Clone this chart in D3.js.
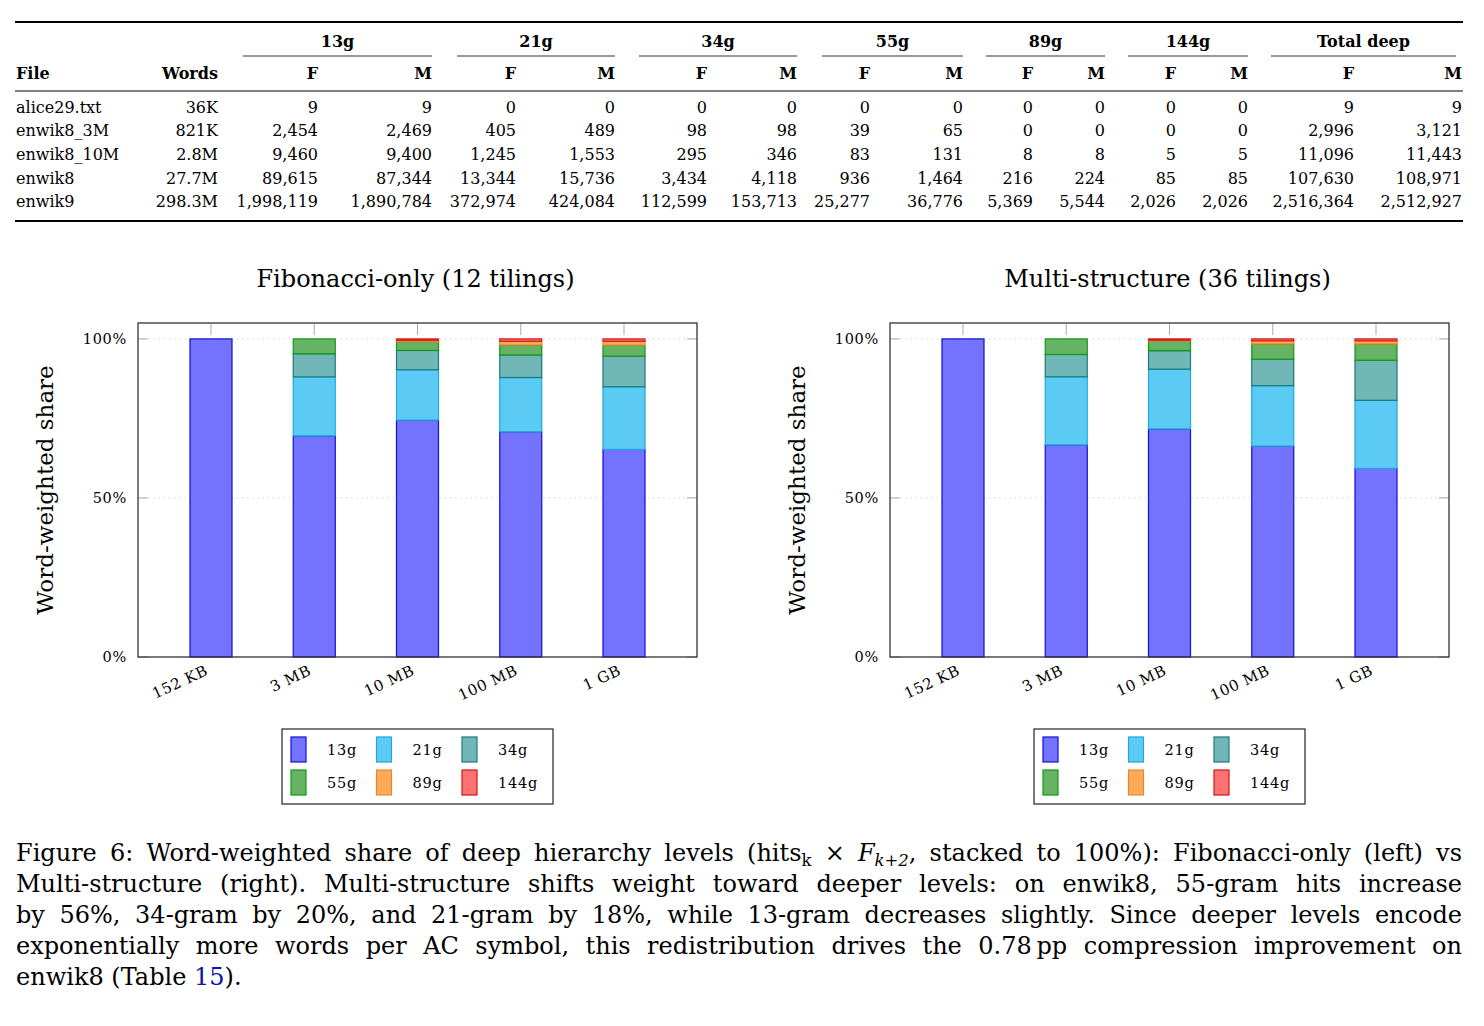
<!DOCTYPE html>
<html>
<head>
<meta charset="utf-8">
<script src="https://cdn.jsdelivr.net/npm/d3@7"></script>
<style>
  body { margin: 0; background: #fff; }
  svg { display: block; font-family: "DejaVu Serif", serif; }
</style>
</head>
<body>
<div id="fig"></div>
<script>
// ---- table data ----
var files = ["alice29.txt", "enwik8_3M", "enwik8_10M", "enwik8", "enwik9"];
var words = ["36K", "821K", "2.8M", "27.7M", "298.3M"];
var groups = ["13g", "21g", "34g", "55g", "89g", "144g", "Total deep"];
var hits13F = [9, 2454, 9460, 89615, 1998119];
var hits13M = [9, 2469, 9400, 87344, 1890784];
var hits21F = [0, 405, 1245, 13344, 372974];
var hits21M = [0, 489, 1553, 15736, 424084];
var hits34F = [0, 98, 295, 3434, 112599];
var hits34M = [0, 98, 346, 4118, 153713];
var hits55F = [0, 39, 83, 936, 25277];
var hits55M = [0, 65, 131, 1464, 36776];
var hits89F = [0, 0, 8, 216, 5369];
var hits89M = [0, 0, 8, 224, 5544];
var hits144F = [0, 0, 5, 85, 2026];
var hits144M = [0, 0, 5, 85, 2026];
var totalF = [9, 2996, 11096, 107630, 2516364];
var totalM = [9, 3121, 11443, 108971, 2512927];

// ---- chart data (word-weighted share, %) ----
var sizes = ["152 KB", "3 MB", "10 MB", "100 MB", "1 GB"];
var levels = ["13g", "21g", "34g", "55g", "89g", "144g"];
var fib13 = [100, 69.53, 74.47, 70.82, 65.27];
var fib21 = [0, 18.54, 15.83, 17.04, 19.68];
var fib34 = [0, 7.26, 6.07, 7.10, 9.62];
var fib55 = [0, 4.67, 2.76, 3.13, 3.49];
var fib89 = [0, 0, 0.43, 1.17, 1.20];
var fib144 = [0, 0, 0.44, 0.74, 0.73];
var multi13 = [100, 66.7, 71.7, 66.3, 59.3];
var multi21 = [0, 21.4, 18.8, 19.0, 21.4];
var multi34 = [0, 7.0, 5.8, 8.3, 12.6];
var multi55 = [0, 4.9, 3.0, 4.8, 5.1];
var multi89 = [0, 0, 0.3, 1.0, 1.0];
var multi144 = [0, 0, 0.4, 0.6, 0.6];
var yTicks = [0, 50, 100];

var fills = ['#7373ff', '#5bcbf5', '#72b7b7', '#66b366', '#ffaa57', '#ff7272'];
var strokes = ['#1010d0', '#20a8d8', '#1a7a7a', '#109a10', '#e88a2a', '#d01818'];

var svg = d3.select('#fig').append('svg')
    .attr('width', 1484)
    .attr('height', 1026);

// ----- table -----
var fmt = d3.format(',');
var tfs = '16px';
var tbl = svg.append('g').attr('class', 'table');
var colRight = [218, 318, 432, 516, 615, 707, 797, 870, 963, 1033, 1105, 1176, 1248, 1354, 1462];
var groupSpan = [[243, 432], [457, 615], [639, 797], [822, 963], [986, 1105], [1128, 1248], [1271, 1456]];
var rowY = [113, 136, 160, 184, 207];

tbl.append('line').attr('x1', 15).attr('x2', 1463).attr('y1', 22).attr('y2', 22)
    .attr('stroke', '#000').attr('stroke-width', 2);
tbl.append('line').attr('x1', 15).attr('x2', 1463).attr('y1', 91).attr('y2', 91)
    .attr('stroke', '#000').attr('stroke-width', 1);
tbl.append('line').attr('x1', 15).attr('x2', 1463).attr('y1', 221).attr('y2', 221)
    .attr('stroke', '#000').attr('stroke-width', 2);

tbl.selectAll('line.cmid')
    .data(groupSpan)
    .join('line')
    .attr('class', 'cmid')
    .attr('x1', d => d[0]).attr('x2', d => d[1])
    .attr('y1', 56).attr('y2', 56)
    .attr('stroke', '#000').attr('stroke-width', 0.8);

tbl.selectAll('text.grp')
    .data(groups)
    .join('text')
    .attr('class', 'grp')
    .attr('x', (d, i) => (groupSpan[i][0] + groupSpan[i][1]) / 2)
    .attr('y', 47)
    .attr('text-anchor', 'middle')
    .style('font-size', tfs)
    .style('font-weight', 'bold')
    .text(d => d);

tbl.append('text').attr('x', 16).attr('y', 79)
    .style('font-size', tfs).style('font-weight', 'bold').text('File');
tbl.append('text').attr('x', colRight[0]).attr('y', 79).attr('text-anchor', 'end')
    .style('font-size', tfs).style('font-weight', 'bold').text('Words');
tbl.selectAll('text.fm')
    .data(d3.range(14))
    .join('text')
    .attr('class', 'fm')
    .attr('x', i => colRight[i + 1])
    .attr('y', 79)
    .attr('text-anchor', 'end')
    .style('font-size', tfs)
    .style('font-weight', 'bold')
    .text(i => i % 2 == 0 ? 'F' : 'M');

var cols = [hits13F, hits13M, hits21F, hits21M, hits34F, hits34M, hits55F, hits55M,
            hits89F, hits89M, hits144F, hits144M, totalF, totalM];
files.forEach(function(f, r) {
    tbl.append('text').attr('x', 16).attr('y', rowY[r])
        .style('font-size', tfs).text(f);
    tbl.append('text').attr('x', colRight[0]).attr('y', rowY[r]).attr('text-anchor', 'end')
        .style('font-size', tfs).text(words[r]);
    cols.forEach(function(c, j) {
        tbl.append('text').attr('x', colRight[j + 1]).attr('y', rowY[r]).attr('text-anchor', 'end')
            .style('font-size', tfs).text(fmt(c[r]));
    });
});

// ----- stacked bar chart -----
function drawChart(left, title, series) {
    var top = 323, w = 559, h = 334;
    var g = svg.append('g').attr('transform', 'translate(' + left + ',' + top + ')');

    var x = d3.scalePoint().domain(sizes).range([0, w]).padding(0.707);
    var y = d3.scaleLinear().domain([0, 105]).range([h, 0]);
    var barW = 42;

    var rows = sizes.map(function(s, i) {
        var o = { size: s };
        levels.forEach(function(l, k) { o[l] = series[k][i]; });
        return o;
    });
    var stacked = d3.stack().keys(levels)(rows);

    // grid
    g.selectAll('line.grid')
        .data(yTicks.filter(t => t > 0))
        .join('line')
        .attr('class', 'grid')
        .attr('x1', 0).attr('x2', w)
        .attr('y1', d => y(d)).attr('y2', d => y(d))
        .attr('stroke', '#c8c8c8')
        .attr('stroke-dasharray', '1.2,4');

    // top ticks
    g.selectAll('line.xt')
        .data(sizes)
        .join('line')
        .attr('class', 'xt')
        .attr('x1', d => x(d)).attr('x2', d => x(d))
        .attr('y1', 0).attr('y2', 12)
        .attr('stroke', '#aaa');

    // y ticks both sides
    [0, w].forEach(function(side) {
        g.selectAll(null)
            .data(yTicks)
            .join('line')
            .attr('x1', side).attr('x2', side == 0 ? 10 : w - 10)
            .attr('y1', d => y(d)).attr('y2', d => y(d))
            .attr('stroke', '#aaa');
    });

    g.append('g')
        .selectAll('g')
        .data(stacked)
        .join('g')
        .attr('fill', (d, i) => fills[i])
        .attr('stroke', (d, i) => strokes[i])
        .selectAll('rect')
        .data(d => d.filter(p => p[1] - p[0] > 0))
        .join('rect')
        .attr('x', d => x(d.data.size) - barW / 2)
        .attr('y', d => y(d[1]))
        .attr('width', barW)
        .attr('height', d => y(d[0]) - y(d[1]))
        .attr('stroke-width', 1.2);

    // frame
    g.append('rect')
        .attr('width', w).attr('height', h)
        .attr('fill', 'none')
        .attr('stroke', '#333')
        .attr('stroke-width', 1.3);

    // y labels
    g.selectAll('text.yl')
        .data(yTicks)
        .join('text')
        .attr('class', 'yl')
        .attr('x', -11)
        .attr('y', d => y(d) + 5)
        .attr('text-anchor', 'end')
        .style('font-size', '14.5px')
        .style('letter-spacing', '0.7px')
        .text(d => d + '%');

    // x labels
    g.selectAll('text.xl')
        .data(sizes)
        .join('text')
        .attr('class', 'xl')
        .attr('text-anchor', 'end')
        .attr('transform', d => 'translate(' + (x(d) - 2) + ',' + (h + 17) + ') rotate(-25)')
        .style('font-size', '15px')
        .style('letter-spacing', '0.6px')
        .text(d => d);

    // y title
    g.append('text')
        .attr('transform', 'translate(' + (-85) + ',' + (h / 2) + ') rotate(-90)')
        .attr('text-anchor', 'middle')
        .style('font-size', '23px')
        .text('Word-weighted share');

    // title
    svg.append('text')
        .attr('x', left + w / 2 - 2)
        .attr('y', 287)
        .attr('text-anchor', 'middle')
        .style('font-size', '24px')
        .text(title);

    // legend
    var lg = svg.append('g').attr('transform', 'translate(' + (left + 144) + ',729)');
    lg.append('rect').attr('width', 271).attr('height', 75)
        .attr('fill', '#fff').attr('stroke', '#222').attr('stroke-width', 1.2);
    var item = lg.selectAll('g.item')
        .data(levels)
        .join('g')
        .attr('class', 'item')
        .attr('transform', (d, i) => 'translate(' + (9 + (i % 3) * 85.5) + ',' + (8 + Math.floor(i / 3) * 33) + ')');
    item.append('rect')
        .attr('width', 15).attr('height', 25)
        .attr('fill', (d, i) => fills[i])
        .attr('stroke', (d, i) => strokes[i])
        .attr('stroke-width', 1.2);
    item.append('text')
        .attr('x', 36).attr('y', 18)
        .style('font-size', '14.5px')
        .style('letter-spacing', '0.8px')
        .text(d => d);
}

drawChart(138, 'Fibonacci-only (12 tilings)', [fib13, fib21, fib34, fib55, fib89, fib144]);
drawChart(890, 'Multi-structure (36 tilings)', [multi13, multi21, multi34, multi55, multi89, multi144]);

// ----- caption -----
var capLines = [
    [['Figure 6: Word-weighted share of deep hierarchy levels (hits'], ['k', 'sub'], [' \u00d7 '], ['F', 'it'], ['k+2', 'subit'], [', stacked to 100%): Fibonacci-only (left) vs']],
    [['Multi-structure (right). Multi-structure shifts weight toward deeper levels: on enwik8, 55-gram hits increase']],
    [['by 56%, 34-gram by 20%, and 21-gram by 18%, while 13-gram decreases slightly. Since deeper levels encode']],
    [['exponentially more words per AC symbol, this redistribution drives the 0.78\u2009pp compression improvement on']],
    [['enwik8 (Table '], ['15', 'link'], [').']]
];
capLines.forEach(function(parts, i) {
    var t = svg.append('text')
        .attr('x', 16)
        .attr('y', 861 + i * 31)
        .style('font-size', '24px');
    parts.forEach(function(p, k) {
        var ts = t.append('tspan').text(p[0]);
        var prev = k > 0 ? parts[k - 1][1] : null;
        var isSub = p[1] == 'sub' || p[1] == 'subit';
        var wasSub = prev == 'sub' || prev == 'subit';
        if (isSub && !wasSub) ts.attr('dy', 5);
        if (!isSub && wasSub) ts.attr('dy', -5);
        if (isSub) ts.style('font-size', '16.5px');
        if (p[1] == 'subit' || p[1] == 'it') ts.style('font-style', 'italic');
        if (p[1] == 'link') ts.attr('fill', '#1010b0');
    });
    if (i < capLines.length - 1) {
        var len = t.node().getComputedTextLength();
        var txt = parts.map(p => p[0]).join('');
        var spaces = (txt.match(/ /g) || []).length;
        t.style('word-spacing', ((1462 - 16 - len) / spaces) + 'px');
    }
});
</script>
</body>
</html>
